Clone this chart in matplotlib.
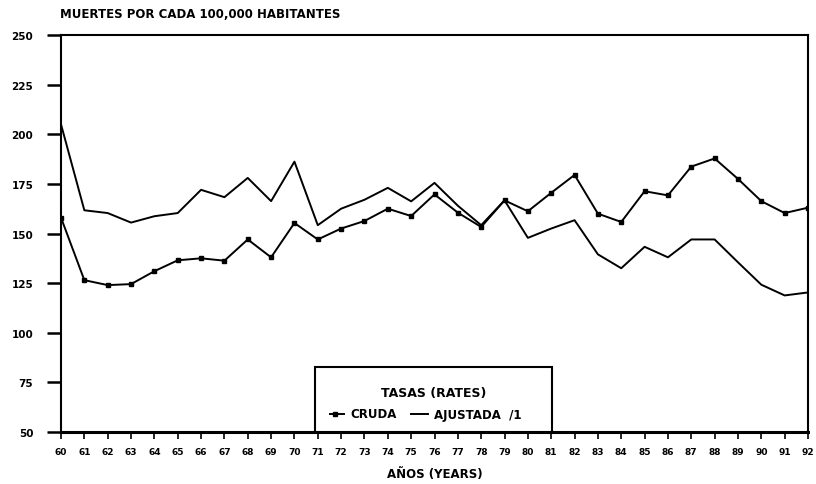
import matplotlib
matplotlib.use("Agg")
import matplotlib.pyplot as plt
from matplotlib.patches import Rectangle
from matplotlib.lines import Line2D

years = list(range(60, 93))
year_labels = [str(y) for y in years]
cruda = [158, 126.5, 124, 124.5, 131, 136.5, 137.5, 136.3, 147, 138, 155.3,
         147, 152.5, 156.3, 162.5, 158.8, 169.7, 160.5, 153.3, 166.7, 161.2,
         170.5, 179.5, 160, 155.8, 171.3, 169.2, 183.7, 187.8, 177.5, 166.3,
         160.3, 163]
ajustada = [205, 161.7, 160.3, 155.5, 158.7, 160.3, 172, 168.3, 178, 166.3,
            186.2, 154.2, 162.5, 167, 173, 166.2, 175.5, 164, 154.2, 166.7,
            147.8, 152.5, 156.7, 139.5, 132.5, 143.3, 138, 147, 147, 135.5,
            124.2, 118.8, 120.3]
y_ticks = [50, 75, 100, 125, 150, 175, 200, 225, 250]

fig = plt.figure(figsize=(8.16, 4.85), dpi=100)
W, H = 816, 485
left, right, top, bottom = 61, 808, 36, 433
ax = fig.add_axes([left / W, 1 - bottom / H, (right - left) / W, (bottom - top) / H])

ax.plot(years, ajustada, color="black", lw=1.4)
ax.plot(years, cruda, color="black", lw=1.4, marker="s", ms=3.5)

ax.set_xlim(60, 92)
ax.set_ylim(50, 250)
ax.set_yticks(y_ticks)
ax.set_yticklabels([str(v) for v in y_ticks], fontsize=7.5, fontweight="bold")
ax.set_xticks(years)
ax.set_xticklabels(year_labels, fontsize=6.5, fontweight="bold")
ax.tick_params(axis="y", direction="out", length=10, width=1.8, pad=10)
ax.tick_params(axis="x", direction="out", length=5, width=1.2, pad=6)
for s in ax.spines.values():
    s.set_linewidth(1.5)
ax.spines["bottom"].set_linewidth(2.2)

fig.text(60 / W, 1 - 15 / H, "MUERTES POR CADA 100,000 HABITANTES",
         fontsize=8.5, fontweight="bold", ha="left", va="center")
ax.set_xlabel("AÑOS (YEARS)", fontsize=8.5, fontweight="bold", labelpad=8)

# legend box
x0, x1, y1 = (315 - left) / 747, (552 - left) / 747, (bottom - 368) / 397
ax.add_patch(Rectangle((x0, 0), x1 - x0, y1, transform=ax.transAxes,
                       facecolor="white", edgecolor="black", lw=1.5, zorder=5,
                       clip_on=False))
ax.text((x0 + x1) / 2, (bottom - 393) / 397, "TASAS (RATES)", transform=ax.transAxes,
        ha="center", va="center", fontsize=9, fontweight="bold", zorder=6)
ey = (bottom - 415) / 397
def ax_x(px):
    return (px - left) / 747
ax.add_line(Line2D([ax_x(330), ax_x(344)], [ey, ey], transform=ax.transAxes,
                   color="black", lw=1.4, zorder=6))
ax.add_line(Line2D([ax_x(335)], [ey], transform=ax.transAxes, color="black",
                   marker="s", ms=3.5, zorder=6))
ax.text(ax_x(350), ey, "CRUDA", transform=ax.transAxes, ha="left", va="center",
        fontsize=8.5, fontweight="bold", zorder=6)
ax.add_line(Line2D([ax_x(411), ax_x(428)], [ey, ey], transform=ax.transAxes,
                   color="black", lw=1.4, zorder=6))
ax.text(ax_x(434), ey, "AJUSTADA  /1", transform=ax.transAxes, ha="left", va="center",
        fontsize=8.5, fontweight="bold", zorder=6)

fig.savefig("out.png", dpi=100, facecolor="white")
